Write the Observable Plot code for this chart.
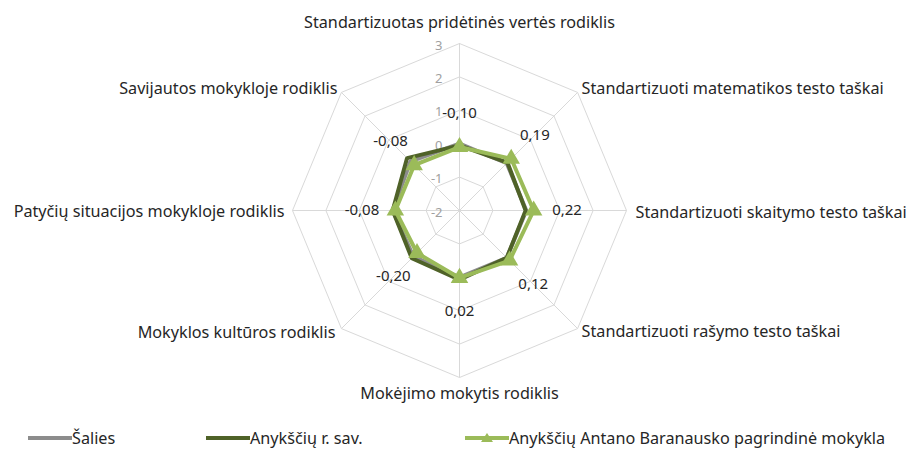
<!DOCTYPE html>
<html>
<head>
<meta charset="utf-8">
<script src="https://cdn.jsdelivr.net/npm/d3@7"></script>
<script src="https://cdn.jsdelivr.net/npm/@observablehq/plot@0.6"></script>
<style>
  body { margin: 0; background: #fff; font-family: "Noto Sans", sans-serif; }
  #chart svg { display: block; }
  .legend { height: 25px; position: relative; font-size: 16.2px; color: #262626; }
  .legend .item { position: absolute; top: 0; height: 25px; display: flex; align-items: center; white-space: nowrap; }
  .legend svg { display: block; }
</style>
</head>
<body>
<div id="chart"></div>
<div class="legend" id="legend"></div>
<script>
// ---- data ----
const axes = [
  "Standartizuotas pridėtinės vertės rodiklis",
  "Standartizuoti matematikos testo taškai",
  "Standartizuoti skaitymo testo taškai",
  "Standartizuoti rašymo testo taškai",
  "Mokėjimo mokytis rodiklis",
  "Mokyklos kultūros rodiklis",
  "Patyčių situacijos mokykloje rodiklis",
  "Savijautos mokykloje rodiklis"
];
const seriesNames = ["Šalies", "Anykščių r. sav.", "Anykščių Antano Baranausko pagrindinė mokykla"];
const salies   = [0.00, 0.00, 0.00, 0.00, 0.00, -0.05, 0.00, 0.08];
const rajonas  = [-0.05, 0.03, -0.02, 0.00, 0.07, 0.02, 0.00, 0.22];
const mokykla  = [-0.10, 0.19, 0.22, 0.12, 0.02, -0.20, -0.08, -0.08];
const tickValues = [3, 2, 1, 0, -1, -2];
const vMin = -2, vMax = 3;

// ---- geometry helpers ----
const n = axes.length;
const pxPerUnit = 33.4, W = 908, H = 425, cx = 459, cy = 210;
function pos(i, v) {
  const a = (i % n) * 2 * Math.PI / n;
  const r = v - vMin;
  return {x: r * Math.sin(a), y: r * Math.cos(a)};
}
const fmt = v => v.toFixed(2).replace(".", ",");

const rings = tickValues.flatMap(t => d3.range(n + 1).map(i => ({level: t, ...pos(i, t)})));
const spokes = axes.map((a, i) => ({x1: 0, y1: 0, x2: pos(i, vMax).x, y2: pos(i, vMax).y}));
const tickData = tickValues.map(t => ({label: String(t), ...pos(0, t)}));

const seriesData = [salies, rajonas, mokykla].map((vals, s) =>
  d3.range(n + 1).map(i => ({series: seriesNames[s], value: vals[i % n], ...pos(i, vals[i % n])})));
const labelData = mokykla.map((v, i) => ({text: fmt(v), ...pos(i, v + 1)}));
const axisLabelData = axes.map((name, i) => ({name, i, ...pos(i, vMax)}));

const colors = ["#8c8c8c", "#4f6228", "#9bbb59"];
const labelLayout = [
  {i: 0, textAnchor: "middle", dx: 0, dy: -21},
  {i: 1, textAnchor: "start", dx: 4, dy: -4},
  {i: 2, textAnchor: "start", dx: 9, dy: 2},
  {i: 3, textAnchor: "start", dx: 4, dy: 3},
  {i: 4, textAnchor: "middle", dx: 0, dy: 16},
  {i: 5, textAnchor: "end", dx: -6, dy: 4},
  {i: 6, textAnchor: "end", dx: -8, dy: 1},
  {i: 7, textAnchor: "end", dx: -4, dy: -4}
];

const font = "'Noto Sans', sans-serif";
const chart = Plot.plot({
  width: W, height: H,
  margin: 0,
  x: {domain: [-cx / pxPerUnit, (W - cx) / pxPerUnit], axis: null},
  y: {domain: [-(H - cy) / pxPerUnit, cy / pxPerUnit], axis: null},
  style: {fontFamily: font, background: "#fff"},
  marks: [
    Plot.line(rings, {x: "x", y: "y", z: "level", stroke: "#d9d9d9", strokeWidth: 1}),
    Plot.link(spokes, {x1: "x1", y1: "y1", x2: "x2", y2: "y2", stroke: "#d9d9d9", strokeWidth: 1}),
    Plot.text(tickData, {x: "x", y: "y", text: "label", textAnchor: "end", dx: -17, dy: 2, fill: "#a0a0a0", fontSize: 13}),
    ...seriesData.map((d, s) => Plot.line(d, {x: "x", y: "y", stroke: colors[s], strokeWidth: 4, strokeLinejoin: "miter"})),
    Plot.dot(seriesData[2].slice(0, n), {x: "x", y: "y", symbol: "triangle", r: 6.5, fill: colors[2], stroke: "none"}),
    Plot.text(labelData, {x: "x", y: "y", text: "text", fill: "#262626", fontSize: 15}),
    ...labelLayout.map(l => Plot.text(axisLabelData.filter(d => d.i === l.i), {
      x: "x", y: "y", text: "name", textAnchor: l.textAnchor, dx: l.dx, dy: l.dy, fill: "#262626", fontSize: 16.2
    }))
  ]
});
document.getElementById("chart").append(chart);

// ---- legend ----
const legend = document.getElementById("legend");
const legendStarts = [28, 206, 465];
seriesNames.forEach((name, s) => {
  const item = document.createElement("div");
  item.className = "item";
  item.style.left = legendStarts[s] + "px";
  const tri = s === 2 ? `<path d="M22,2 L28,11 L16,11 Z" fill="${colors[s]}"/>` : "";
  item.innerHTML = `<svg width="44" height="14"><line x1="0" y1="7" x2="44" y2="7" stroke="${colors[s]}" stroke-width="4"/>${tri}</svg><span>${name}</span>`;
  legend.append(item);
});
</script>
</body>
</html>
